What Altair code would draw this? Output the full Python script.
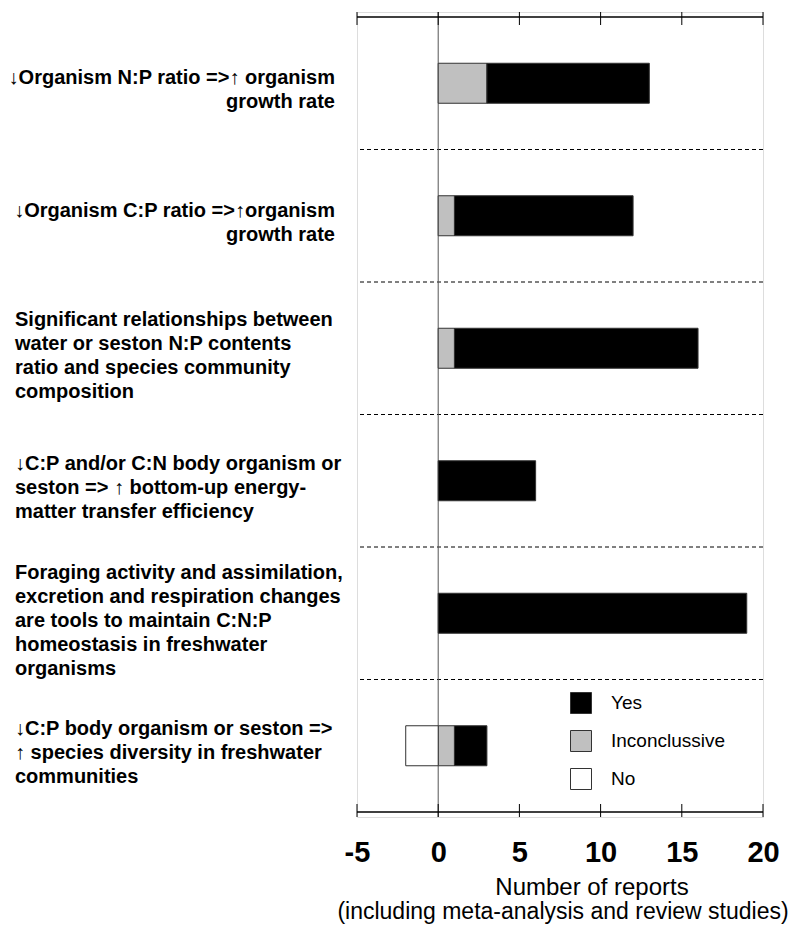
import altair as alt
import pandas as pd

# ---- data ----
statements = [
    "↓Organism N:P ratio =>↑ organism\ngrowth rate",
    "↓Organism C:P ratio =>↑organism\ngrowth rate",
    "Significant relationships between\nwater or seston N:P contents\nratio and species community\ncomposition",
    "↓C:P and/or C:N body organism or\nseston => ↑ bottom-up energy-\nmatter transfer efficiency",
    "Foraging activity and assimilation,\nexcretion and respiration changes\nare tools to maintain C:N:P\nhomeostasis in freshwater\norganisms",
    "↓C:P body organism or seston =>\n↑ species diversity in freshwater\ncommunities",
]
yes_counts = [10, 11, 15, 6, 19, 2]
inconclusive_counts = [3, 1, 1, 0, 0, 1]
no_counts = [0, 0, 0, 0, 0, 2]
legend_labels = ["Yes", "Inconclussive", "No"]
legend_colors = ["#000000", "#c0c0c0", "#ffffff"]
tick_values = [-5, 0, 5, 10, 15, 20]
x_title_lines = ["Number of reports", "(including meta-analysis and review studies)"]

FONT = "Liberation Sans, Arial, Helvetica, sans-serif"
W, H = 406, 805
NROW = len(statements)
LINE_H = 24
BAND_PX = H / NROW

# long table for stacked bars
rows = []
for i in range(NROW):
    rows.append({"pos": i + 0.5, "cat": "Inconclussive", "value": inconclusive_counts[i], "ord": 0})
    rows.append({"pos": i + 0.5, "cat": "Yes", "value": yes_counts[i], "ord": 1})
    rows.append({"pos": i + 0.5, "cat": "No", "value": -no_counts[i], "ord": 2})
bars_df = pd.DataFrame(rows)
bars_df = bars_df[bars_df["value"] != 0]

labels_df = pd.DataFrame({
    "pos": [i + 0.5 for i in range(NROW)],
    "idx": list(range(NROW)),
    "label": statements,
    "n": [s.count("\n") + 1 for s in statements],
})
bounds_df = pd.DataFrame({"b": list(range(1, NROW))})
frame_df = pd.DataFrame({"b": [0, NROW]})
ticks_df = pd.DataFrame({"v": tick_values})

xscale = alt.Scale(domain=[tick_values[0], tick_values[-1]], nice=False, zero=False)
yscale = alt.Scale(domain=[0, NROW], reverse=True, nice=False, zero=False)

base_y = alt.Y("b:Q", scale=yscale, axis=None)

separators = alt.Chart(bounds_df).mark_rule(
    color="#000000", strokeWidth=1, strokeDash=[4, 3]
).encode(y=base_y)

frame = alt.Chart(frame_df).mark_rule(color="#000000", strokeWidth=1.3).encode(y=base_y)

zero_line = alt.Chart(pd.DataFrame({"v": [0]})).mark_rule(
    color="#555555", strokeWidth=1
).encode(x=alt.X("v:Q", scale=xscale))

top_ticks = alt.Chart(ticks_df).mark_rule(color="#000000", strokeWidth=1).encode(
    x=alt.X("v:Q", scale=xscale), y=alt.value(0), y2=alt.value(13)
)
bottom_ticks = alt.Chart(ticks_df).mark_rule(color="#000000", strokeWidth=1).encode(
    x=alt.X("v:Q", scale=xscale), y=alt.value(H - 13), y2=alt.value(H)
)

bars = alt.Chart(bars_df).mark_bar(
    size=40, orient="horizontal", stroke="#333333", strokeWidth=1
).encode(
    x=alt.X(
        "value:Q",
        stack="zero",
        scale=xscale,
        axis=alt.Axis(
            values=tick_values,
            labelExpr="datum.value + ''",
            labelFlush=False,
            labelOverlap=False,
            grid=False,
            ticks=False,
            domain=False,
            labelFont=FONT,
            labelFontSize=29,
            labelFontWeight="bold",
            labelColor="#000000",
            labelPadding=21,
            title=None,
        ),
    ),
    y=alt.Y("pos:Q", scale=yscale, axis=None),
    color=alt.Color(
        "cat:N",
        scale=alt.Scale(domain=legend_labels, range=legend_colors),
        legend=alt.Legend(
            orient="none",
            legendX=213,
            legendY=680,
            title=None,
            symbolType="square",
            symbolSize=441,
            symbolStrokeColor="#333333",
            symbolStrokeWidth=1,
            labelFont=FONT,
            labelFontSize=19,
            labelColor="#000000",
            labelOffset=19,
            rowPadding=12,
            padding=0,
        ),
    ),
    order=alt.Order("ord:Q"),
)

# first line placed so that the multi-line block sits (slightly below) the row centre
label_calc = f"datum.pos + (7 - (datum.n - 1) * {LINE_H / 2}) / {BAND_PX}"

labels_right = alt.Chart(labels_df).transform_filter("datum.idx < 2").transform_calculate(
    ypos=label_calc
).mark_text(
    align="right", baseline="middle", font=FONT, fontSize=20, fontWeight="bold",
    lineBreak="\n", lineHeight=LINE_H, color="#000000",
).encode(x=alt.value(-22), y=alt.Y("ypos:Q", scale=yscale, axis=None), text="label:N")

labels_left = alt.Chart(labels_df).transform_filter("datum.idx >= 2").transform_calculate(
    ypos=label_calc
).mark_text(
    align="left", baseline="middle", font=FONT, fontSize=20, fontWeight="bold",
    lineBreak="\n", lineHeight=LINE_H, color="#000000",
).encode(x=alt.value(-342), y=alt.Y("ypos:Q", scale=yscale, axis=None), text="label:N")

title1 = alt.Chart(pd.DataFrame({"t": [x_title_lines[0]]})).mark_text(
    align="center", baseline="middle", font=FONT, fontSize=24, color="#000000"
).encode(x=alt.value(235), y=alt.value(876), text="t:N")

title2 = alt.Chart(pd.DataFrame({"t": [x_title_lines[1]]})).mark_text(
    align="center", baseline="middle", font=FONT, fontSize=23, color="#000000"
).encode(x=alt.value(206), y=alt.value(900), text="t:N")

chart = alt.layer(
    separators, zero_line, bars, frame, top_ticks, bottom_ticks,
    labels_right, labels_left, title1, title2,
).properties(
    width=W,
    height=H,
    autosize=alt.AutoSizeParams(type="none"),
    padding={"left": 349, "top": 4, "right": 26, "bottom": 108},
).configure_view(
    stroke="#666666", strokeWidth=1
).configure(background="#ffffff")

chart.save("out.html", embed_options={"renderer": "svg", "actions": False})
